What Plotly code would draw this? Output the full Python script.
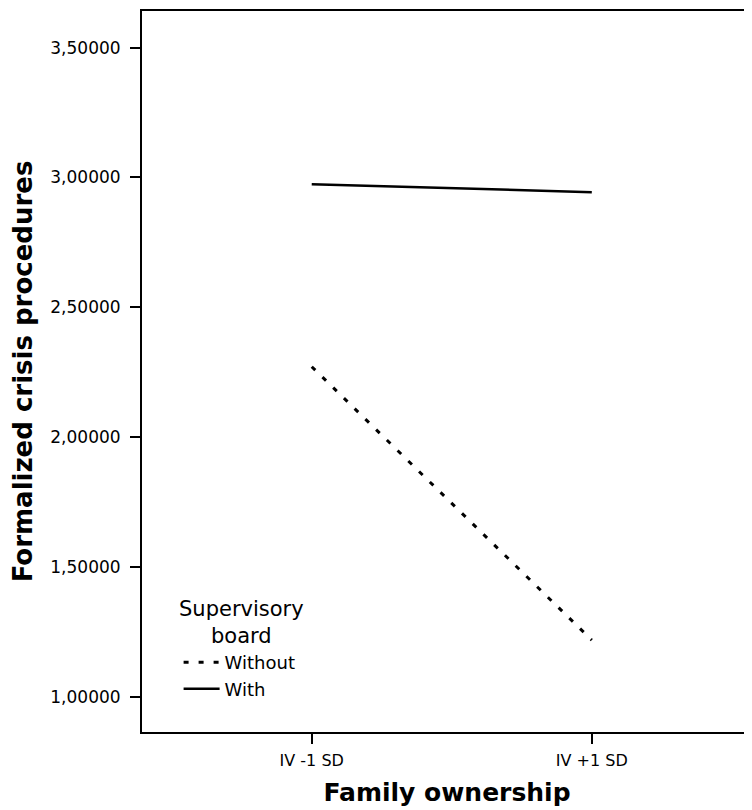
import plotly.graph_objects as go

categories = ["IV -1 SD", "IV +1 SD"]
without_vals = [2.271, 1.218]
with_vals = [2.974, 2.943]
series_names = ["Without", "With"]
legend_title = "Supervisory<br>board"
ytick_vals = [1.0, 1.5, 2.0, 2.5, 3.0, 3.5]
ytick_text = ["1,00000", "1,50000", "2,00000", "2,50000", "3,00000", "3,50000"]

FONT = "DejaVu Sans"
xpos = [0, 1]

fig = go.Figure()
fig.add_trace(go.Scatter(x=xpos, y=without_vals, mode="lines", name=series_names[0],
                         line=dict(color="black", width=3, dash="5px,10px")))
fig.add_trace(go.Scatter(x=xpos, y=with_vals, mode="lines", name=series_names[1],
                         line=dict(color="black", width=2.5)))

# page body has an 8px margin; compensate so plot area sits at x 142..752, y 11..732
fig.update_layout(
    width=744, height=802,
    margin=dict(l=134, r=0, t=3, b=78),
    paper_bgcolor="white", plot_bgcolor="white",
    font=dict(family=FONT, color="black"),
    showlegend=True,
    legend=dict(
        x=0.06, y=0.122, xanchor="left", yanchor="top",
        bgcolor="rgba(0,0,0,0)",
        font=dict(size=18, family=FONT),
        itemwidth=36, tracegroupgap=0,
    ),
    annotations=[dict(
        text=legend_title, xref="paper", yref="paper", x=0.163, y=0.19,
        xanchor="center", yanchor="top", align="center", showarrow=False,
        font=dict(size=21, family=FONT, color="black"),
    )],
    xaxis=dict(
        range=[-0.606, 1.572],
        tickvals=xpos, ticktext=categories,
        ticks="outside", ticklen=10, tickwidth=1.5, tickcolor="black",
        ticklabelstandoff=3,
        showline=True, linecolor="black", linewidth=2, mirror=True,
        showgrid=False, zeroline=False,
        tickfont=dict(size=16, family=FONT),
        title=dict(text="<b>Family ownership</b>", font=dict(size=25, family=FONT), standoff=14),
    ),
    yaxis=dict(
        range=[0.864, 3.641],
        tickvals=ytick_vals, ticktext=ytick_text,
        ticks="outside", ticklen=10, tickwidth=2, tickcolor="black",
        ticklabelstandoff=6,
        showline=True, linecolor="black", linewidth=2,
        showgrid=False, zeroline=False,
        tickfont=dict(size=17, family=FONT),
        title=dict(text="<b>Formalized crisis procedures</b>", font=dict(size=26, family=FONT), standoff=15),
    ),
)

fig.write_html("out.html")
